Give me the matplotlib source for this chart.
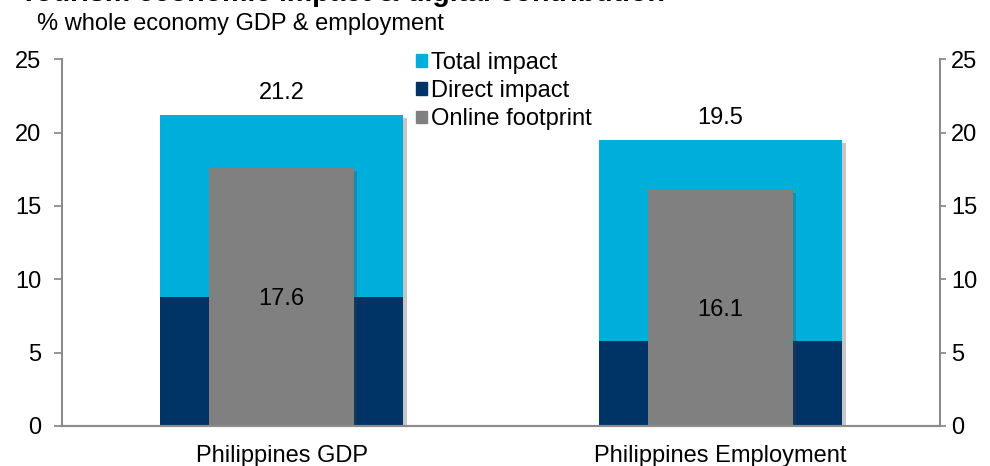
import matplotlib
matplotlib.use("Agg")
import matplotlib.pyplot as plt
import matplotlib.patheffects as pe
from matplotlib.patches import Patch
import numpy as np

plt.rcParams.update({
    "font.family": ["Liberation Sans", "DejaVu Sans"],
    "font.size": 17,
})

categories = ["Philippines GDP", "Philippines Employment"]
total_impact = [21.2, 19.5]
direct_impact = [8.8, 5.8]
online_footprint = [17.6, 16.1]

C_TOTAL = "#00AEDB"
C_DIRECT = "#003366"
C_ONLINE = "#808080"
C_AXIS = "#8C8C8C"

fig = plt.figure(figsize=(9.9, 4.66), dpi=100)
ax = fig.add_axes([0.0626, 0.086, 0.887, 0.787])

x = np.arange(len(categories))
shadow = [pe.SimplePatchShadow(offset=(2.5, -2.0), alpha=0.3, shadow_rgbFace="#444444"), pe.Normal()]

tot = ax.bar(x, total_impact, width=0.555, color=C_TOTAL, zorder=2)
dirb = ax.bar(x, direct_impact, width=0.555, color=C_DIRECT, zorder=2)
onl = ax.bar(x, online_footprint, width=0.33, color=C_ONLINE, zorder=3)
for b in list(tot) + list(onl):
    b.set_path_effects(shadow)

for xi, t in zip(x, total_impact):
    ax.text(xi, t + 1.5, f"{t:.1f}", ha="center", va="center")
for xi, o in zip(x, online_footprint):
    ax.text(xi, o / 2 - 0.15, f"{o:.1f}", ha="center", va="center", zorder=4)

ax.set_xlim(-0.5, 1.5)
ax.set_ylim(0, 25)
ax.set_yticks(np.arange(0, 26, 5))
ax.set_xticks(x)
ax.set_xticklabels(categories)
ax.tick_params(axis="x", length=0, pad=14)
ax.tick_params(axis="y", direction="out", length=6, width=1.3, color=C_AXIS, pad=9)

ax2 = ax.twinx()
ax2.set_ylim(0, 25)
ax2.set_yticks(np.arange(0, 26, 5))
ax2.tick_params(axis="y", direction="out", length=4, width=1.3, color=C_AXIS, pad=4)

for a in (ax, ax2):
    a.spines["top"].set_visible(False)
    for s in ("left", "right", "bottom"):
        a.spines[s].set_color(C_AXIS)
        a.spines[s].set_linewidth(1.5)
ax.spines["right"].set_visible(False)
ax2.spines["left"].set_visible(False)

handles = [Patch(color=C_TOTAL), Patch(color=C_DIRECT), Patch(color=C_ONLINE)]
fig.legend(handles, ["Total impact", "Direct impact", "Online footprint"],
           loc="upper left", bbox_to_anchor=(416 / 990, 1 - 52 / 466),
           frameon=False, handlelength=0.45, handleheight=0.45,
           handletextpad=0.2, labelspacing=0.26, borderpad=0, borderaxespad=0)

fig.text(20 / 990, 1 - 1 / 466, "Tourism economic impact & digital contribution",
         fontsize=20.5, fontweight="bold", va="baseline", ha="left")
fig.text(37 / 990, 1 - 24 / 466, "% whole economy GDP & employment",
         va="center", ha="left")

fig.savefig("out.png", dpi=100)
